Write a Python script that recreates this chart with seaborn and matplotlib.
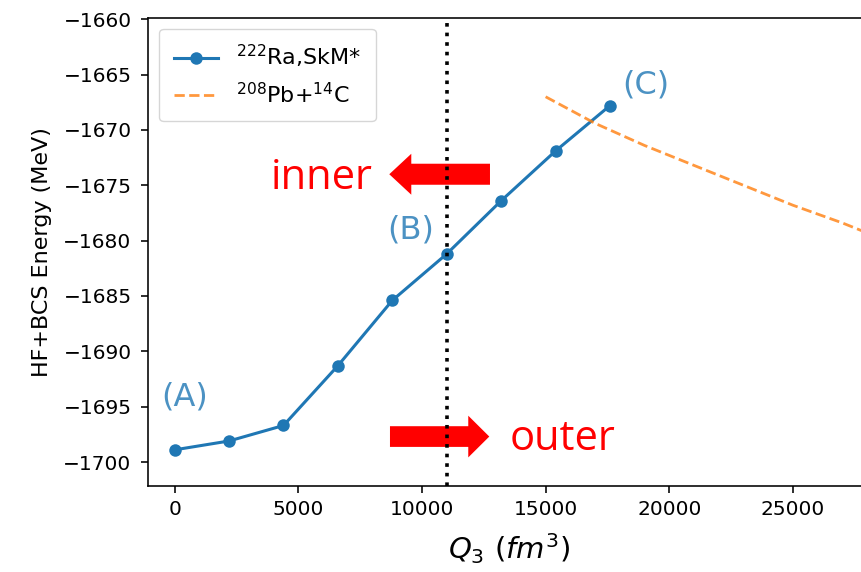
import matplotlib
matplotlib.use("Agg")
import matplotlib.pyplot as plt
from matplotlib.patches import FancyArrow
import seaborn as sns
import pandas as pd

# HF+BCS path for 222Ra (SkM*)
q3_ra = [0, 2200, 4400, 6600, 8800, 11000, 13200, 15400, 17600]
e_ra = [-1698.9, -1698.1, -1696.7, -1691.3, -1685.4, -1681.2, -1676.4, -1671.9, -1667.8]

# 208Pb + 14C two-body curve
q3_pb = [15000, 16000, 17000, 18000, 19000, 20000, 21000, 22000, 23000,
         24000, 25000, 26000, 27000, 28000, 29000]
e_pb = [-1667.0, -1668.2, -1669.4, -1670.4, -1671.4, -1672.3, -1673.2, -1674.1,
        -1675.0, -1675.9, -1676.8, -1677.6, -1678.4, -1679.3, -1680.1]

q3_split = 11000
labels_abc = ["(A)", "(B)", "(C)"]
labels_x = [420, 9560, 19060]
labels_y = [-1694.1, -1679.0, -1665.9]

df_ra = pd.DataFrame({"Q3": q3_ra, "E": e_ra})
df_pb = pd.DataFrame({"Q3": q3_pb, "E": e_pb})

plt.rcParams.update({
    "font.size": 14.5,
    "axes.linewidth": 1.15,
    "xtick.major.width": 1.15,
    "ytick.major.width": 1.15,
    "xtick.major.size": 5,
    "ytick.major.size": 5,
})

fig = plt.figure(figsize=(8.61, 5.72), dpi=100)
ax = fig.add_axes([0.1722, 0.1503, 0.8382, 0.8187])

sns.lineplot(data=df_ra, x="Q3", y="E", ax=ax, color="#1f77b4", marker="o",
             markersize=9, markeredgewidth=0, linewidth=2.2,
             label="$^{222}$Ra,SkM*")
sns.lineplot(data=df_pb, x="Q3", y="E", ax=ax, color="#ff7f0e", alpha=0.8,
             linestyle="--", linewidth=2.0, label="$^{208}$Pb+$^{14}$C")

ax.axvline(q3_split, color="black", linestyle=":", linewidth=2.6)

for txt, tx, ty in zip(labels_abc, labels_x, labels_y):
    ax.text(tx, ty, txt, fontsize=23, color="#1f77b4", alpha=0.8,
            ha="center", va="center")

# direction arrows for the inner / outer regions
ax.add_patch(FancyArrow(12750, -1674.0, -4072, 0, width=1.9, head_width=3.7,
                        head_length=890, length_includes_head=True,
                        color="#ff0000", linewidth=0))
ax.add_patch(FancyArrow(8706, -1697.7, 4016, 0, width=1.87, head_width=3.77,
                        head_length=850, length_includes_head=True,
                        color="#ff0000", linewidth=0))
ax.text(8000, -1674.3, "inner", fontsize=30, color="#ff0000",
        family="Open Sans", ha="right", va="center")
ax.text(13560, -1697.9, "outer", fontsize=30, color="#ff0000",
        family="Open Sans", ha="left", va="center")

ax.set_xlim(-1068, 28115)
ax.set_ylim(-1702.17, -1659.86)
ax.set_xticks([0, 5000, 10000, 15000, 20000, 25000])
ax.set_yticks(list(range(-1700, -1659, 5)))
ax.tick_params(axis="y", pad=7)
ax.tick_params(axis="x", pad=5)
ax.set_xlabel(r"$Q_3\ (fm^3)$", fontsize=21, labelpad=9)
ax.set_ylabel("HF+BCS Energy (MeV)", fontsize=16, labelpad=8)

ax.legend(loc="upper left", fontsize=16, frameon=True, borderpad=0.65)

fig.savefig("out.png", dpi=100)
